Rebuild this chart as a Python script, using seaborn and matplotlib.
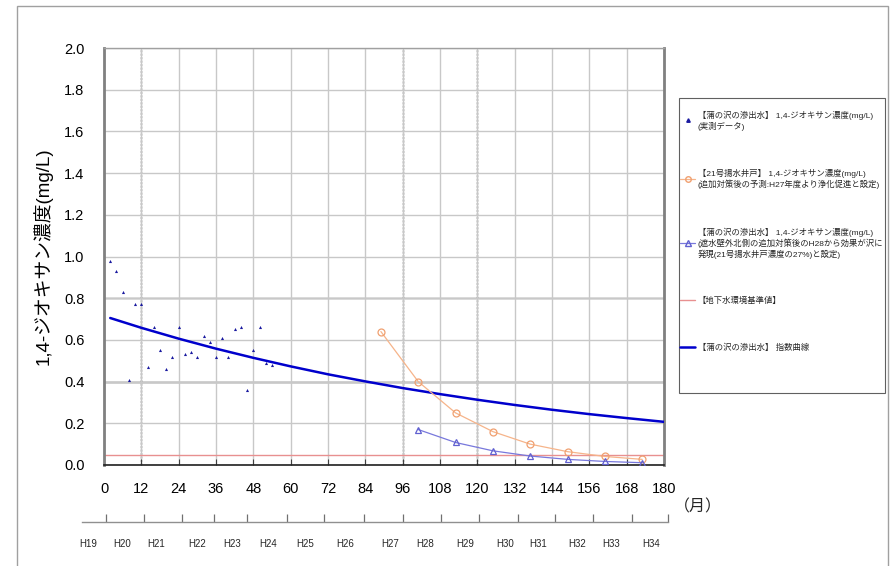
import numpy as np
import pandas as pd
import matplotlib
matplotlib.use("Agg")
import matplotlib.pyplot as plt
import seaborn as sns
from matplotlib.patches import Rectangle

sns.set_theme(style="white")
plt.rcParams['font.family'] = ['Liberation Sans', 'Noto Sans CJK JP', 'DejaVu Sans']

# ---------------- data ----------------
meas_month = [2, 4, 6, 8, 10, 12, 14, 16, 18, 20, 22, 24, 26, 28, 30, 32, 34,
              36, 38, 40, 42, 44, 46, 48, 50, 52, 54]
meas_value = [0.98, 0.93, 0.83, 0.41, 0.77, 0.77, 0.47, 0.66, 0.55, 0.46, 0.52,
              0.66, 0.53, 0.54, 0.52, 0.62, 0.59, 0.52, 0.61, 0.52, 0.65, 0.66,
              0.36, 0.55, 0.66, 0.49, 0.48]

well_month = [89, 101, 113, 125, 137, 149, 161, 173]
well_value = [0.64, 0.40, 0.25, 0.16, 0.10, 0.064, 0.041, 0.027]

pred_month = [101, 113, 125, 137, 149, 161, 173]
pred_value = [0.17, 0.108, 0.068, 0.043, 0.027, 0.017, 0.011]

curve_month = [2, 12, 24, 36, 48, 60, 72, 84, 96, 108, 120, 132, 144, 156, 168, 180]
curve_value = [0.705, 0.658, 0.606, 0.558, 0.514, 0.473, 0.435, 0.401, 0.369,
               0.340, 0.313, 0.288, 0.265, 0.244, 0.225, 0.207]

standard_value = 0.05

x_ticks = list(range(0, 181, 12))
y_ticks = [0.0, 0.2, 0.4, 0.6, 0.8, 1.0, 1.2, 1.4, 1.6, 1.8, 2.0]

fy_labels = ['H19', 'H20', 'H21', 'H22', 'H23', 'H24', 'H25', 'H26', 'H27',
             'H28', 'H29', 'H30', 'H31', 'H32', 'H33', 'H34']
fy_label_pos = [-5.1, 5.8, 16.8, 29.9, 41.2, 52.7, 64.7, 77.6, 92.0, 103.1,
                116.0, 129.0, 139.7, 152.0, 163.0, 175.8]
fy_tick_pos = [0.6, 13.0, 25.0, 35.5, 46.1, 58.9, 70.7, 83.6, 96.0, 108.2,
               120.5, 133.1, 144.9, 157.3, 169.8, 181.4]

labels = [
    "【蒲の沢の滲出水】 1,4-ジオキサン濃度(mg/L)\n(実測データ)",
    "【21号揚水井戸】 1,4-ジオキサン濃度(mg/L)\n(追加対策後の予測:H27年度より浄化促進と設定)",
    "【蒲の沢の滲出水】 1,4-ジオキサン濃度(mg/L)\n(遮水壁外北側の追加対策後のH28から効果が沢に\n発現(21号揚水井戸濃度の27%)と設定)",
    "【地下水環境基準値】",
    "【蒲の沢の滲出水】 指数曲線",
]

df_meas = pd.DataFrame({'month': meas_month, 'value': meas_value})
df_well = pd.DataFrame({'month': well_month, 'value': well_value})
df_pred = pd.DataFrame({'month': pred_month, 'value': pred_value})
df_curve = pd.DataFrame({'month': curve_month, 'value': curve_value})

# ---------------- figure ----------------
W, H = 896, 566
fig = plt.figure(figsize=(W / 100, H / 100), dpi=100)
fig.patch.set_facecolor('white')

L, R, T, B = 104, 664, 48, 465
ax = fig.add_axes([L / W, 1 - B / H, (R - L) / W, (B - T) / H])
ax.set_facecolor('white')

# outer frame
fig.patches.append(Rectangle((17 / W, -0.02), (888 - 17) / W, 1 - 6 / H + 0.02,
                             transform=fig.transFigure, fill=False,
                             edgecolor='#A0A0A0', lw=1.0, zorder=0))

# grid
ax.set_xlim(0, 180)
ax.set_ylim(0, 2.0)
ax.set_xticks(x_ticks)
ax.set_yticks(y_ticks)
ax.grid(True, axis='both', color='#C8C8C8', lw=1.0, zorder=0)
ax.axhline(0.4, color='#202020', lw=1.0, zorder=0.5)
ax.axhline(0.8, color='#606060', lw=1.0, zorder=0.5)
for xv in [12, 96, 120]:
    ax.axvline(xv, color='#505050', lw=1.0, ls=(0, (1.5, 1)), zorder=0.5)

# series
sns.lineplot(data=df_curve, x='month', y='value', ax=ax, color='#0000CC',
             lw=1.8, zorder=3, legend=False)
ax.axhline(standard_value, color='#E89090', lw=1.0, zorder=2)
sns.lineplot(data=df_well, x='month', y='value', ax=ax, color='#F6B48A',
             lw=0.9, marker='o', markersize=5, markerfacecolor='none',
             markeredgecolor='#F0A070', markeredgewidth=0.9, zorder=4,
             legend=False)
sns.lineplot(data=df_pred, x='month', y='value', ax=ax, color='#7878DC',
             lw=0.9, marker='^', markersize=5, markerfacecolor='none',
             markeredgecolor='#6060D0', markeredgewidth=0.9, zorder=4,
             legend=False)
sns.scatterplot(data=df_meas, x='month', y='value', ax=ax, color='#1a1aa0',
                marker='^', s=5, linewidth=0, zorder=5, legend=False)

# axes styling
for side in ['left', 'right']:
    ax.spines[side].set_color('#808080')
    ax.spines[side].set_linewidth(2.0)
ax.spines['top'].set_color('#A0A0A0')
ax.spines['top'].set_linewidth(1.0)
ax.spines['bottom'].set_color('#202020')
ax.spines['bottom'].set_linewidth(1.2)
ax.tick_params(axis='y', length=0, pad=14, labelsize=10.5, labelcolor='black',
               left=True)
ax.tick_params(axis='x', direction='in', length=4, width=0.8, color='#404040',
               pad=12, labelsize=10.5, labelcolor='black', top=False, bottom=True)
ax.set_yticklabels([f"{v:.1f}" for v in y_ticks])
ax.set_xticklabels([str(v) for v in x_ticks])
ax.set_xlabel('')
ax.set_ylabel('1,4-ジオキサン濃度(mg/L)', fontsize=13.5, labelpad=8, color='black')
fig.text(698 / W, 1 - 507 / H, '（月）', fontsize=11.5, ha='center', va='center')

# fiscal-year axis
x0, x1 = -7, 181.4
px0 = L + x0 * (R - L) / 180
px1 = L + x1 * (R - L) / 180
ax2 = fig.add_axes([px0 / W, 1 - 522 / H, (px1 - px0) / W, 0.001])
ax2.set_xlim(x0, x1)
ax2.set_ylim(0, 1)
ax2.set_facecolor('none')
for side in ['left', 'right', 'top']:
    ax2.spines[side].set_visible(False)
ax2.spines['bottom'].set_color('#909090')
ax2.spines['bottom'].set_linewidth(1.0)
ax2.set_yticks([])
ax2.set_xticks(fy_tick_pos)
ax2.set_xticklabels([])
ax2.tick_params(axis='x', which='major', direction='in', length=6, width=0.9,
                color='#707070', bottom=True)
ax2.set_xticks(fy_label_pos, minor=True)
ax2.set_xticklabels(fy_labels, minor=True)
ax2.tick_params(axis='x', which='minor', length=0, pad=12, labelsize=7,
                bottom=True, labelbottom=True)

# legend box (frame drawn separately)
fig.patches.append(Rectangle((679 / W, 1 - 393 / H), (885 - 679) / W,
                             (393 - 98) / H, transform=fig.transFigure,
                             fill=False, edgecolor='#606060', lw=0.8, zorder=1))
h_meas = plt.Line2D([], [], ls='none', marker='^', ms=2.5, color='#1a1aa0')
h_well = plt.Line2D([], [], color='#F6B48A', lw=0.9, marker='o', ms=4,
                    mfc='none', mec='#F0A070')
h_pred = plt.Line2D([], [], color='#7878DC', lw=0.9, marker='^', ms=4,
                    mfc='none', mec='#6060D0')
h_std = plt.Line2D([], [], color='#E89090', lw=1.0)
h_curve = plt.Line2D([], [], color='#0000CC', lw=1.8)
leg = fig.legend([h_meas, h_well, h_pred, h_std, h_curve], labels,
                 loc='upper left', bbox_to_anchor=(680 / W, 1 - 111 / H),
                 fontsize=6, frameon=False, labelspacing=4.6,
                 handlelength=1.8, handletextpad=0.3, borderpad=0,
                 borderaxespad=0)

fig.savefig('out.png', dpi=100, facecolor='white')
